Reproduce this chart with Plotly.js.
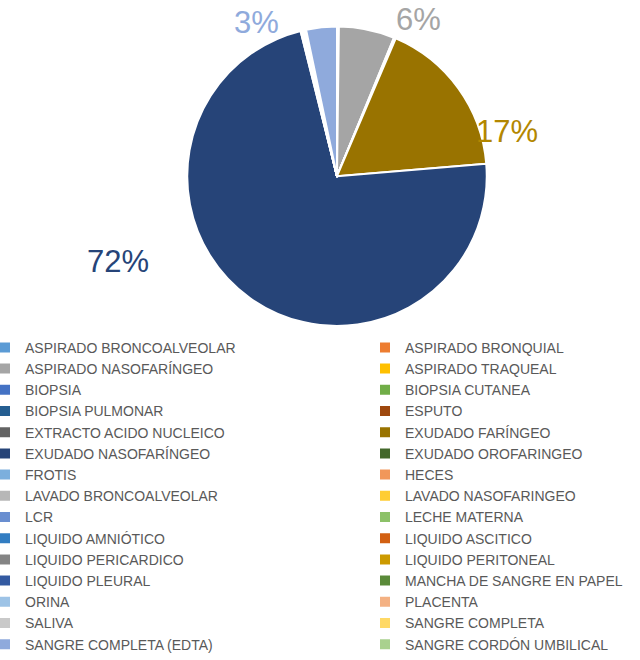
<!DOCTYPE html>
<html><head><meta charset="utf-8">
<script src="https://cdn.plot.ly/plotly-3.0.1.min.js"></script>
<style>html,body{margin:0;padding:0;overflow:hidden;background:#fff}#chart{width:780px;height:660px}</style>
</head><body><div id="chart"></div>
<script>
const labels = [
  "ASPIRADO BRONCOALVEOLAR","ASPIRADO BRONQUIAL","ASPIRADO NASOFARÍNGEO","ASPIRADO TRAQUEAL",
  "BIOPSIA","BIOPSIA CUTANEA","BIOPSIA PULMONAR","ESPUTO",
  "EXTRACTO ACIDO NUCLEICO","EXUDADO FARÍNGEO","EXUDADO NASOFARÍNGEO","EXUDADO OROFARINGEO",
  "FROTIS","HECES","LAVADO BRONCOALVEOLAR","LAVADO NASOFARINGEO",
  "LCR","LECHE MATERNA","LIQUIDO AMNIÓTICO","LIQUIDO ASCITICO",
  "LIQUIDO PERICARDICO","LIQUIDO PERITONEAL","LIQUIDO PLEURAL","MANCHA DE SANGRE EN PAPEL",
  "ORINA","PLACENTA","SALIVA","SANGRE COMPLETA",
  "SANGRE COMPLETA (EDTA)","SANGRE CORDÓN UMBILICAL"
];
const values = [
  2, 0, 60, 1,
  0, 0, 0, 1,
  0, 172, 722, 1,
  0, 0, 1, 1,
  0, 0, 0, 0,
  0, 0, 1, 0,
  1, 0, 1, 0,
  33, 0
];
const colors = [
  "#5B9BD5","#ED7D31","#A5A5A5","#FFC000",
  "#4472C4","#70AD47","#255E91","#9E480E",
  "#636363","#997300","#264478","#43682B",
  "#7CAFDD","#F1975A","#B7B7B7","#FFCD33",
  "#698ED0","#8CC168","#327DC2","#D26012",
  "#848484","#CC9A00","#335AA1","#5A8A39",
  "#9DC3E6","#F4B183","#C9C9C9","#FFD966",
  "#8FAADC","#A9D18E"
];
// which slices carry a percentage label, and the label colour
const labelled = ["ASPIRADO NASOFARÍNGEO","EXUDADO FARÍNGEO","EXUDADO NASOFARÍNGEO","SANGRE COMPLETA (EDTA)"];
const labelColors = ["#A5A5A5","#B38700","#264478","#8FAADC"];

const W = 780, H = 660;
const labelPx = [[418,20],[507,134],[118,267],[256,23]];
const total = values.reduce((a,b)=>a+b,0);

const annotations = labelled.map((name,k)=>{
  const v = values[labels.indexOf(name)];
  return {
    text: Math.round(v/total*100) + '%',
    x: labelPx[k][0]/W, y: 1 - labelPx[k][1]/H,
    xref:'paper', yref:'paper', xanchor:'center', yanchor:'middle',
    showarrow:false,
    font:{family:'Liberation Sans', size:31, color:labelColors[k]}
  };
});

const cx = 337, cy = 180, r = 153;
const trace = {
  type:'pie',
  labels: labels,
  values: values,
  sort:false,
  direction:'clockwise',
  rotation:0,
  textinfo:'none',
  hoverinfo:'label+percent',
  marker:{colors:colors, line:{color:'#ffffff', width:2}},
  domain:{x:[(cx-r)/W,(cx+r)/W], y:[1-(cy+r)/H, 1-(cy-r)/H]}
};

const layout = {
  width:W, height:H,
  margin:{l:0,r:0,t:0,b:0},
  paper_bgcolor:'#ffffff',
  showlegend:true,
  legend:{
    orientation:'h', x:0, xanchor:'left', y:1-339/H, yanchor:'top',
    entrywidth:350, entrywidthmode:'pixels', indentation:-15,
    traceorder:'normal', bgcolor:'rgba(0,0,0,0)',
    font:{family:'Liberation Sans', size:14, color:'#595959'}
  },
  annotations: annotations
};

Plotly.newPlot('chart',[trace],layout,{displayModeBar:false, staticPlot:true});
</script></body></html>
